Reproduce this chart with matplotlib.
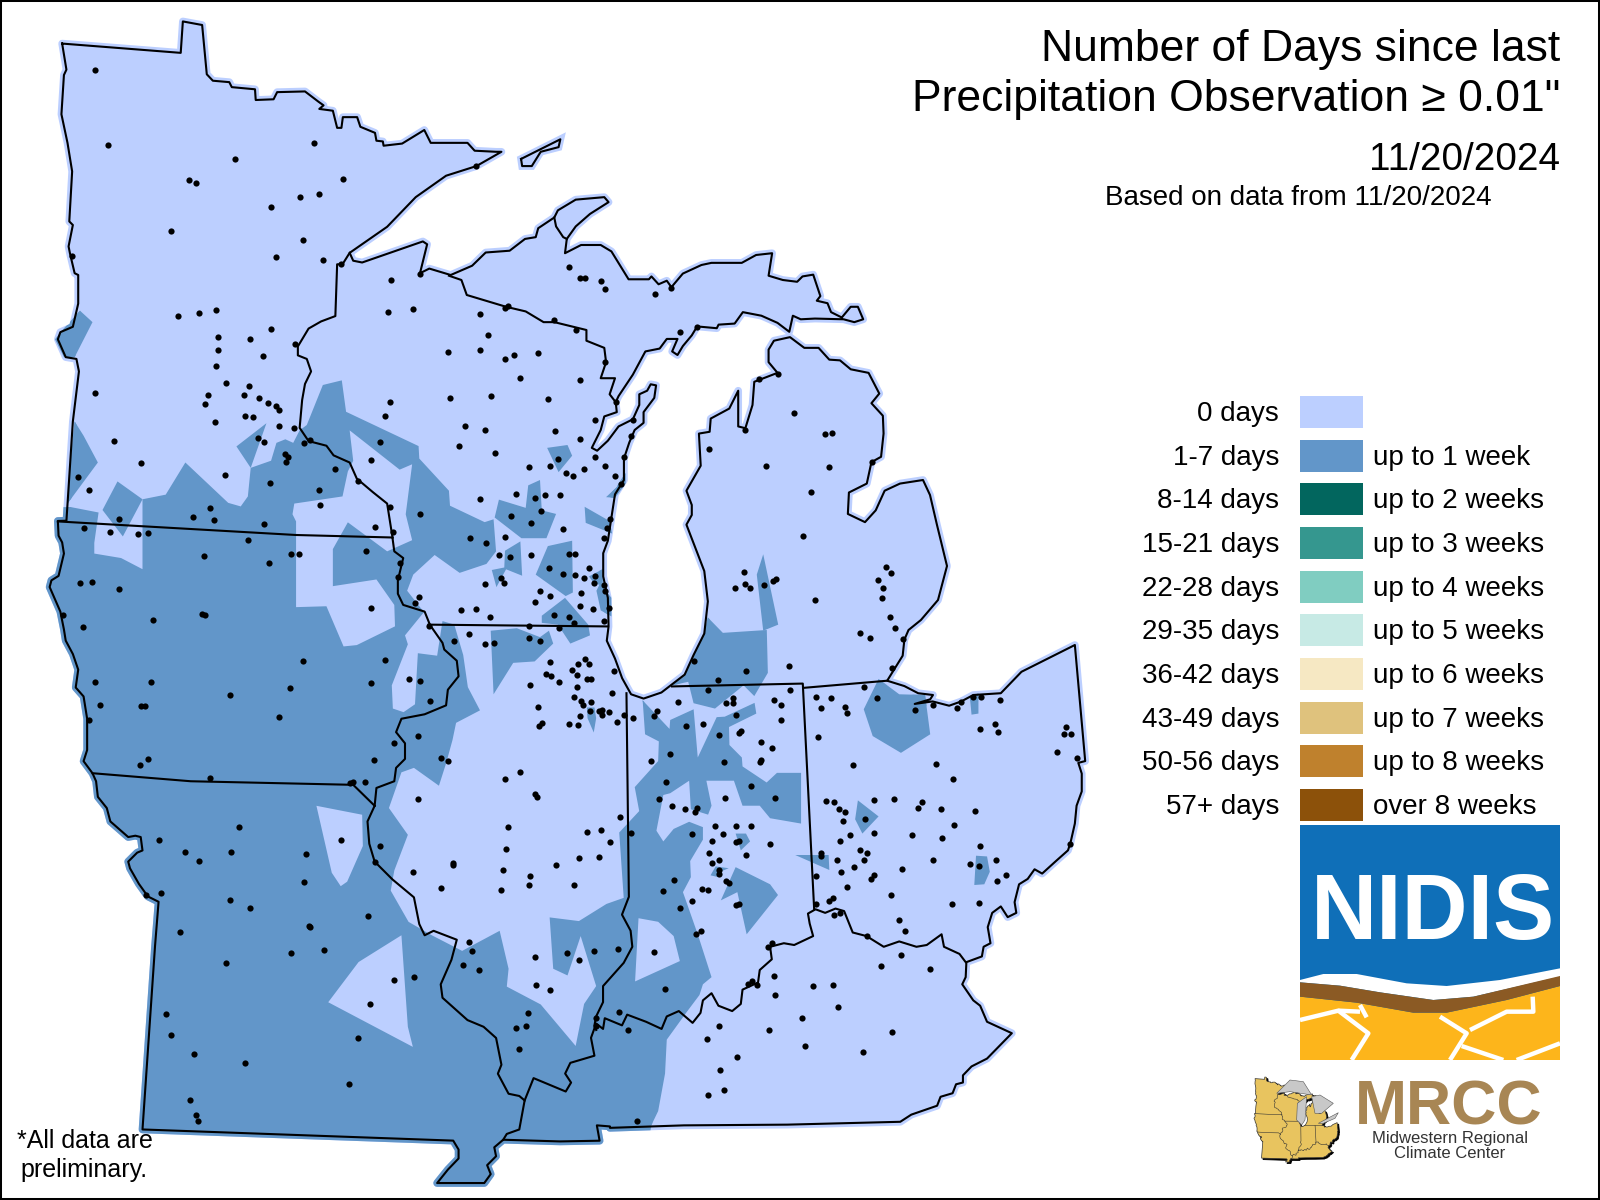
import matplotlib
matplotlib.use("Agg")
import matplotlib.pyplot as plt
from matplotlib.patches import Polygon, Rectangle

plt.rcParams["font.family"] = ["Liberation Sans", "DejaVu Sans"]

LIGHT = "#BCCFFF"
BLUE = "#6296C9"

day_labels = ["0 days", "1-7 days", "8-14 days", "15-21 days", "22-28 days",
              "29-35 days", "36-42 days", "43-49 days", "50-56 days", "57+ days"]
week_labels = ["", "up to 1 week", "up to 2 weeks", "up to 3 weeks", "up to 4 weeks",
               "up to 5 weeks", "up to 6 weeks", "up to 7 weeks", "up to 8 weeks", "over 8 weeks"]
bin_colors = [LIGHT, BLUE, "#02665E", "#35978F", "#80CDC1",
              "#C7EAE5", "#F6E8C3", "#DFC27D", "#BF812D", "#8C510A"]


def nw(pts):
    return [(30 + a / 2.8, b / 2.8) for a, b in pts]

def sw(pts):
    return [(30 + a / 2.8, 500 + b / 2.24) for a, b in pts]

def mid(pts):
    return [(340 + a / 2.8, 180 + b / 2.8) for a, b in pts]

def se(pts):
    return [(560 + a / 2.9037, 620 + b / 2.8) for a, b in pts]


outline = (
    nw([(90, 122), (422, 148), (428, 60), (482, 70), (495, 208), (512, 226), (558, 230), (565, 244),
        (630, 250), (632, 280), (682, 278), (692, 258), (770, 256), (808, 285), (822, 295), (810, 305),
        (848, 310), (860, 358), (872, 358), (876, 328), (916, 328), (925, 355), (966, 372), (970, 394),
        (988, 396), (990, 408), (1042, 402), (1104, 364), (1122, 400), (1225, 400), (1245, 422),
        (1305, 425), (1320, 425), (1250, 465), (1165, 492), (1080, 552), (1000, 635), (895, 708),
        (905, 730), (930, 735), (1100, 676), (1112, 684), (1092, 765), (1118, 752), (1178, 770)])
    + mid([(370, 240), (408, 203), (475, 198), (518, 165), (548, 160), (555, 135), (600, 105), (610, 85),
           (660, 55), (740, 48), (752, 62), (700, 95), (660, 130), (635, 165), (630, 205), (675, 182),
           (730, 182), (760, 200), (808, 278), (865, 278), (872, 270), (892, 292), (915, 282), (928, 300),
           (960, 262), (1012, 238), (1040, 232), (1125, 232), (1165, 210), (1210, 205), (1200, 268),
           (1240, 280), (1280, 285), (1295, 270), (1325, 265), (1345, 325), (1335, 338), (1365, 345),
           (1375, 370), (1405, 385), (1430, 355), (1450, 355), (1465, 390), (1440, 398), (1410, 390),
           (1330, 388), (1290, 390), (1268, 380), (1258, 425), (1225, 400), (1180, 380), (1128, 370),
           (1105, 402), (1060, 405), (1055, 415), (1000, 410), (985, 435), (960, 465), (945, 490),
           (930, 480), (945, 445), (915, 445), (895, 472), (855, 480), (820, 545), (780, 605), (772, 622),
           (775, 650), (740, 662), (730, 700), (705, 750), (720, 758), (750, 730), (780, 690), (820, 670),
           (838, 630), (838, 600), (860, 590), (870, 572), (885, 575), (880, 610), (850, 650), (850, 680),
           (825, 700), (810, 735), (795, 780), (795, 840), (770, 880), (760, 945), (750, 1010), (737, 1045),
           (737, 1110), (750, 1170), (752, 1250), (747, 1290), (770, 1340), (790, 1395), (815, 1440),
           (850, 1452), (900, 1435), (965, 1385), (990, 1330), (1020, 1270), (1030, 1180), (1020, 1095),
           (970, 965), (985, 938), (985, 910), (970, 870), (1010, 800), (1005, 710), (1035, 705),
           (1038, 668), (1090, 640), (1115, 590), (1115, 690), (1135, 695), (1155, 630), (1160, 565),
           (1225, 540), (1200, 510), (1200, 475), (1215, 450), (1260, 440), (1300, 470), (1340, 470),
           (1370, 503), (1400, 505), (1430, 530), (1480, 540), (1510, 598), (1488, 625), (1520, 660),
           (1522, 710), (1515, 775), (1488, 790), (1475, 850), (1425, 875), (1422, 935), (1470, 958),
           (1500, 925), (1525, 870), (1568, 850)])
    + [(923, 480), (930, 495), (937, 525), (947, 566), (938, 600)]
    + se([(1048, 0), (1012, 28), (1000, 55), (995, 100), (950, 170), (1000, 185), (1040, 205), (1083, 210),
          (1075, 222), (1030, 235), (1082, 228), (1130, 240), (1165, 228), (1200, 210), (1280, 205),
          (1340, 145), (1495, 70), (1525, 395), (1505, 400), (1515, 430), (1515, 480), (1500, 520),
          (1495, 570), (1482, 625), (1475, 645), (1440, 675), (1400, 710), (1378, 698), (1358, 725),
          (1333, 740), (1320, 790), (1325, 820), (1300, 832), (1280, 802), (1255, 820), (1242, 860),
          (1250, 905), (1230, 915), (1225, 942), (1180, 958), (1178, 1000), (1168, 1020), (1200, 1065),
          (1220, 1080), (1240, 1125), (1312, 1157), (1240, 1228), (1195, 1250), (1170, 1275), (1170, 1295),
          (1150, 1300), (1140, 1325), (1105, 1335), (1095, 1360), (1020, 1385), (988, 1405), (660, 1413),
          (360, 1415), (145, 1422), (145, 1418), (107, 1415), (115, 1458), (0, 1460)])
    + sw([(1325, 1433), (1300, 1450), (1305, 1470), (1280, 1490), (1290, 1510), (1272, 1530), (1140, 1530),
          (1170, 1500), (1200, 1475), (1200, 1455), (1185, 1435), (315, 1410), (350, 1000), (360, 900),
          (330, 888), (305, 860), (280, 825), (275, 810), (300, 790), (315, 785), (310, 755), (295, 752),
          (275, 755), (225, 720), (215, 690), (190, 665), (185, 630), (175, 612), (150, 585), (160, 560),
          (160, 490), (150, 440), (128, 420), (135, 380), (120, 345), (100, 315), (95, 290), (85, 250),
          (55, 195), (60, 180), (80, 170), (95, 120), (90, 95), (80, 80), (78, 47)])
    + nw([(102, 1458), (120, 1180), (137, 1040), (130, 1005), (100, 1000), (78, 950), (85, 930), (120, 915),
          (135, 850), (135, 770), (125, 765), (112, 710), (108, 690), (120, 630), (110, 620), (118, 480),
          (105, 400), (88, 320), (95, 210), (102, 195)])
)
isle_royale = nw([(1375, 445), (1485, 390), (1480, 412), (1430, 425), (1405, 465), (1378, 465)])

state_lines = [
    nw([(78, 1460), (745, 1498), (1015, 1505)]),  # MN-IA
    nw([(895, 708), (875, 740), (860, 740), (855, 885), (815, 900), (780, 920), (750, 970), (750, 995),
        (775, 1005), (787, 1040), (770, 1075), (762, 1120), (755, 1198), (780, 1235), (830, 1248), (850, 1275),
        (895, 1295), (915, 1340), (960, 1378), (1000, 1410), (1015, 1505)]),  # MN-WI
    sw([(1015, 85), (1020, 115), (1045, 130), (1030, 180), (1030, 210), (1045, 235), (1105, 250), (1120, 280),
        (1155, 320), (1160, 335), (1195, 360), (1200, 395), (1170, 425), (1165, 460), (1105, 480), (1040, 490),
        (1025, 520), (1050, 545), (1050, 580), (1025, 600), (1020, 630), (970, 645), (965, 685)]),  # Mississippi
    sw([(175, 612), (450, 630), (905, 638), (965, 685)]),  # IA-MO
    sw([(965, 685), (945, 720), (950, 770), (965, 810), (1015, 850), (1075, 890), (1090, 950), (1105, 975),
        (1130, 965), (1195, 985), (1180, 1030), (1150, 1085), (1155, 1115), (1225, 1165), (1270, 1180),
        (1305, 1205), (1320, 1265), (1310, 1285), (1340, 1330), (1370, 1335), (1385, 1345), (1370, 1410),
        (1335, 1420), (1325, 1433)]),  # MO-IL-KY
    sw([(1385, 1345), (1410, 1295), (1500, 1325), (1515, 1305)])
    + se([(15, 1270), (30, 1240), (100, 1220), (90, 1170), (105, 1130), (125, 1145), (130, 1115), (180, 1135),
          (195, 1105), (250, 1125), (295, 1145), (310, 1110), (345, 1095), (385, 1128), (408, 1100), (415, 1065),
          (440, 1045), (460, 1080), (500, 1095), (525, 1075), (530, 1035), (575, 1015), (580, 980), (615, 950),
          (610, 915), (650, 905), (680, 910), (735, 885), (725, 850), (720, 822), (742, 810), (770, 820),
          (800, 808), (825, 815), (850, 875), (890, 885), (940, 915), (985, 900), (1035, 915), (1065, 910),
          (1108, 880), (1115, 915), (1160, 935), (1178, 958)]),  # Ohio river
    se([(193, 205), (200, 775), (180, 825), (205, 870), (210, 915), (185, 960), (125, 1025), (125, 1070),
        (105, 1110), (100, 1135), (105, 1148)]),  # IL-IN
    mid([(248, 1245), (750, 1250)]),  # WI-IL
    mid([(305, 268), (340, 280), (355, 322), (465, 355), (520, 368), (570, 398), (600, 398), (690, 420),
         (690, 450), (740, 470), (745, 510), (730, 555), (770, 555), (755, 600), (772, 622)]),  # WI-MI
    mid([(600, 105), (605, 130), (625, 160), (635, 165)]),  # Keweenaw
    se([(325, 186), (705, 178), (738, 810)]),  # MI-IN, IN-OH
    se([(707, 190), (950, 170)]),  # MI-OH
]

# the 1-7 day area, with the zero day holes and the smaller islands painted on top in turn
big_blue = (
    [(20, 507)]
    + nw([(115, 1420), (192, 1435), (180, 1520)])
    + sw([(180, 120), (255, 130), (315, 155)])
    + nw([(315, 1398), (380, 1385), (435, 1295), (555, 1408), (590, 1418), (610, 1390), (618, 1310), (675, 1290),
          (690, 1240), (715, 1230), (737, 1240), (755, 1205), (775, 1190), (820, 1078), (873, 1065), (885, 1153)])
    + mid([(220, 745), (222, 780), (305, 870), (308, 912), (405, 958), (430, 950), (437, 1040), (410, 1075),
           (335, 1100), (265, 1050), (205, 1105), (188, 1150), (235, 1210), (182, 1275), (190, 1300), (145, 1415),
           (148, 1480), (178, 1490), (210, 1468), (218, 1325), (272, 1332), (287, 1235), (320, 1245), (345, 1330),
           (358, 1420), (392, 1485), (325, 1520), (315, 1568)])
    + sw([(1165, 590), (1145, 640), (1075, 600), (1040, 610), (1005, 690), (1058, 750), (1020, 830), (1010, 875),
          (1060, 945), (1125, 975), (1210, 1010), (1315, 965), (1340, 1050), (1335, 1090), (1430, 1130), (1530, 1225)])
    + se([(45, 1195), (70, 1075), (105, 1025), (60, 885)])
    + sw([(1505, 1065), (1465, 1050), (1455, 935)])
    + se([(55, 843), (135, 795), (185, 778), (172, 595), (230, 535), (217, 468), (285, 395), (287, 340), (247, 320),
          (240, 225), (318, 305), (320, 280), (388, 250), (400, 385), (455, 272), (490, 270), (492, 350), (528, 385),
          (530, 410), (600, 455), (630, 428), (700, 428), (700, 570), (610, 555), (580, 520), (530, 520), (505, 450),
          (425, 450), (440, 520), (430, 545), (380, 530), (375, 450), (320, 485), (300, 490), (280, 590), (300, 620),
          (330, 585), (375, 565), (415, 580), (415, 615), (378, 675), (380, 720), (357, 762), (400, 880), (440, 1000),
          (415, 1020), (405, 1050), (370, 1095), (310, 1175), (305, 1270), (285, 1375), (265, 1415), (255, 1480)])
    + [(500, 1195), (30, 1195)]
)
zero_holes = [
    sw([(745, 240), (830, 238), (878, 328), (915, 325), (1022, 283), (1020, 235), (970, 178), (848, 193), (848, 110),
        (890, 50), (1000, 115), (1070, 90)])
    + nw([(1052, 1440), (1070, 1300), (1035, 1315), (895, 1205), (905, 1290), (890, 1320), (875, 1390), (740, 1410),
          (735, 1440), (745, 1460)]),
    sw([(802, 685), (930, 705), (932, 775), (888, 855), (870, 865), (845, 835)]),
    sw([(835, 1125), (920, 1035), (1040, 975), (1058, 1180), (1072, 1225)]),
    se([(228, 835), (285, 845), (330, 885), (348, 955), (218, 1012)]),
]
blue_islands = [
    nw([(140, 870), (175, 902), (125, 1000), (95, 1000), (70, 950), (90, 925)]),
    nw([(125, 1180), (150, 1220), (190, 1295), (105, 1410), (110, 1330)]),
    nw([(245, 1348), (315, 1398), (260, 1502), (203, 1428)]),
    nw([(662, 1185), (618, 1310), (578, 1250)]),
    mid([(580, 750), (637, 742), (650, 772), (612, 818)]),
    mid([(527, 855), (560, 840), (565, 925), (605, 935), (578, 1003), (508, 1003), (433, 945), (445, 895), (520, 918)]),
    mid([(685, 915), (755, 955), (762, 990), (688, 960)]),
    mid([(745, 888), (775, 860), (780, 850), (800, 820), (800, 850), (770, 890)]),
    mid([(650, 1010), (652, 1155), (632, 1165), (548, 1105), (582, 1025)]),
    mid([(505, 1012), (510, 1108), (465, 1090), (438, 1140), (425, 1092), (460, 1085), (462, 1038)]),
    mid([(718, 1150), (728, 1130), (760, 1170), (760, 1222), (730, 1205)]),
    mid([(697, 1110), (735, 1090), (735, 1135), (712, 1130)]),
    mid([(565, 1220), (630, 1170), (695, 1245), (700, 1275), (645, 1298), (610, 1245), (565, 1240)]),
    mid([(422, 1262), (495, 1255), (560, 1280), (585, 1262), (597, 1298), (545, 1348), (485, 1352), (430, 1440)]),
    mid([(1030, 1225), (1072, 1268), (1195, 1260), (1198, 1380), (1160, 1445), (1130, 1415), (1050, 1480), (990, 1465),
         (975, 1405), (930, 1415), (965, 1385), (1020, 1270)]),
    mid([(1185, 1048), (1227, 1245), (1185, 1262), (1167, 1105)]),
    se([(882, 250), (925, 165), (985, 208), (1060, 210), (1075, 320), (990, 372), (908, 325)]),
    se([(1190, 215), (1215, 205), (1215, 262), (1195, 265)]),
    se([(865, 505), (925, 550), (878, 598), (857, 558)]),
    se([(1208, 660), (1240, 662), (1248, 705), (1232, 740), (1203, 742)]),
    se([(683, 658), (780, 658), (782, 700)]),
    se([(510, 598), (540, 598), (552, 620), (525, 645)]),
    se([(437, 715), (452, 690), (490, 695), (465, 705), (460, 720)]),
    se([(510, 692), (610, 740), (633, 770), (542, 880), (515, 762), (467, 785)]),
    se([(480, 270), (565, 232), (570, 262), (490, 300)]),
    se([(78, 245), (100, 245), (105, 275), (98, 315), (80, 275)]),
]

stations = (
    nw([(181, 196), (218, 406), (573, 446), (794, 401), (445, 504), (466, 513), (757, 552), (808, 544), (676, 580),
        (396, 647), (763, 672), (690, 720), (819, 728), (118, 716), (414, 885), (472, 877), (522, 868), (676, 922),
        (525, 944), (617, 950), (741, 964), (525, 980), (651, 997), (522, 1025), (181, 1101), (550, 1073), (612, 1081),
        (497, 1106), (598, 1106), (640, 1115), (665, 1129), (489, 1132), (690, 1137), (697, 1148), (601, 1165),
        (623, 1168), (519, 1182), (696, 1193), (739, 1199), (234, 1235), (638, 1227), (654, 1238), (766, 1241),
        (783, 1232), (312, 1297), (713, 1272), (722, 1280), (718, 1293), (853, 1314), (133, 1336), (547, 1330),
        (164, 1372), (673, 1353), (808, 1372), (875, 502), (1248, 465), (870, 740)])
    + sw([(813, 12), (505, 18), (455, 38), (250, 42), (514, 45), (654, 54), (150, 62), (223, 72), (301, 76), (329, 73),
          (609, 89), (486, 126), (732, 121), (752, 121), (668, 142), (141, 186), (173, 184), (248, 200), (92, 258),
          (343, 269), (147, 285), (482, 256), (490, 258), (763, 360), (181, 408), (340, 407), (559, 437), (729, 422),
          (197, 460), (312, 462), (322, 462), (164, 492), (696, 487), (307, 594), (329, 581), (503, 623), (584, 733),
          (360, 762), (433, 789), (472, 809), (564, 789), (774, 793), (326, 885), (368, 881), (766, 856), (559, 897),
          (617, 914), (419, 968), (780, 954), (784, 957), (822, 1009), (732, 1015), (550, 1038), (382, 1152), (396, 1199),
          (458, 1242), (601, 1262), (447, 1345), (465, 1378), (470, 1392), (962, 583), (1018, 545), (895, 633), (904, 632),
          (937, 632), (1152, 578), (1170, 585), (1329, 625), (1371, 610), (1415, 658), (1419, 665), (1085, 670), (1338, 733),
          (872, 762), (979, 776), (965, 811), (1334, 782), (1184, 812), (1184, 818), (1474, 818), (1072, 833), (1324, 829),
          (1150, 868), (1320, 873), (1401, 843), (1396, 863), (945, 932), (1228, 991), (1237, 1011), (1415, 1024),
          (1212, 1042), (1257, 1053), (1018, 1076), (1074, 1069), (1418, 1087), (1455, 1098), (951, 1130), (917, 1206),
          (892, 1309), (1394, 1150), (1362, 1183), (1388, 1179), (1368, 1230)])
    + mid([(223, 262), (144, 280), (640, 244), (673, 275), (685, 275), (730, 283), (743, 306), (883, 320), (928, 302),
           (133, 370), (203, 362), (391, 376), (461, 358), (470, 354), (600, 393), (662, 420), (951, 426), (1000, 412),
           (413, 434), (301, 482), (393, 476), (461, 502), (486, 490), (553, 485), (742, 510), (503, 554), (673, 561),
           (1226, 543), (1172, 558), (309, 611), (424, 605), (581, 614), (139, 622), (772, 621), (1270, 653), (127, 661),
           (349, 689), (405, 700), (603, 703), (715, 672), (820, 672), (1135, 701), (1357, 712), (1377, 709), (814, 717),
           (671, 726), (111, 734), (332, 745), (435, 765), (1032, 754), (713, 776), (795, 776), (88, 784), (609, 782),
           (528, 804), (587, 801), (743, 801), (682, 810), (1194, 801), (1368, 804), (1490, 790), (634, 821), (651, 829),
           (771, 829), (49, 843), (786, 852), (1320, 874), (494, 880), (547, 891), (575, 882), (615, 882), (393, 894),
           (141, 915), (480, 941), (564, 927), (223, 936), (757, 950), (536, 961), (99, 972), (747, 975), (623, 978),
           (147, 986), (461, 999), (1295, 997), (363, 1003), (410, 1017), (738, 1003), (74, 1039), (444, 1050), (477, 1056),
           (536, 1050), (640, 1048), (659, 1048), (167, 1073), (584, 1087), (697, 1087), (1530, 1084), (1130, 1098),
           (1542, 1101), (161, 1111), (657, 1106), (623, 1104), (713, 1109), (682, 1115), (452, 1114), (1505, 1121),
           (1222, 1118), (1211, 1123), (711, 1129), (458, 1129), (405, 1132), (1135, 1132), (1147, 1143), (1186, 1134),
           (1105, 1143), (738, 1135), (1520, 1143), (561, 1151), (741, 1151), (676, 1157), (587, 1165), (221, 1168),
           (1517, 1171), (1329, 1176), (211, 1185), (547, 1182), (673, 1193), (752, 1199), (707, 1202), (88, 1199),
           (340, 1204), (382, 1202), (598, 1217), (419, 1224), (640, 1224), (1539, 1224), (530, 1249), (250, 1250),
           (612, 1255), (529, 1283), (559, 1291), (318, 1291), (407, 1300), (430, 1297), (360, 1272), (125, 1344), (192, 1398),
           (225, 1403), (88, 1409), (253, 1459), (533, 1414), (589, 1350), (578, 1384), (592, 1389), (612, 1406),
           (219, 1557), (553, 1476), (558, 1528), (565, 1521), (1553, 1255)])
    + se([(42, 8), (128, 3), (870, 37), (899, 51), (997, 53), (74, 110), (52, 122), (83, 124), (34, 141),
          (48, 154), (158, 143), (78, 166), (90, 166), (48, 188), (150, 205), (40, 216), (62, 226), (68, 237), (89, 230),
          (57, 269), (25, 290), (52, 295), (86, 255), (112, 255), (122, 253), (123, 266), (141, 258), (165, 286), (187, 266),
          (211, 275), (388, 115), (458, 168), (541, 143), (664, 129), (963, 135), (429, 197), (667, 195), (882, 187),
          (343, 230), (281, 255), (272, 269), (365, 297), (415, 292), (461, 322), (481, 233), (502, 218), (502, 233),
          (510, 267), (621, 223), (641, 239), (643, 281), (520, 317), (525, 312), (743, 216), (786, 219), (758, 247),
          (827, 244), (833, 261), (920, 219), (1031, 253), (1082, 237), (1152, 247), (1164, 230), (1200, 216), (1222, 216),
          (1277, 225), (1262, 292), (1219, 306), (1271, 314), (1468, 300), (1463, 320), (1483, 320), (748, 328), (583, 342),
          (617, 359), (580, 398), (584, 393), (265, 394), (318, 376), (475, 398), (1442, 370), (1500, 387), (850, 406),
          (1091, 404), (1140, 446), (307, 454), (554, 465), (287, 502), (478, 499), (623, 499), (324, 521), (362, 530),
          (397, 525), (393, 538), (772, 507), (797, 510), (913, 505), (969, 502), (1050, 510), (1039, 527), (1105, 530),
          (809, 530), (827, 538), (1204, 535), (174, 552), (823, 563), (887, 558), (449, 577), (510, 577), (554, 577),
          (1143, 575), (78, 594), (118, 588), (205, 597), (382, 600), (472, 600), (841, 602), (911, 597), (1021, 603),
          (1108, 611), (144, 622), (440, 619), (511, 622), (519, 619), (609, 628), (812, 619), (1221, 633), (1480, 628),
          (432, 653), (540, 658), (757, 653), (757, 662), (870, 645), (891, 653), (54, 667), (112, 664), (463, 673), (803, 673),
          (882, 673), (1082, 673), (1265, 673), (441, 681), (1190, 684), (1218, 689), (461, 700), (463, 712), (815, 706),
          (853, 692), (992, 698), (913, 714), (902, 726), (743, 717), (330, 729), (483, 731), (490, 737), (1268, 731),
          (1295, 714), (42, 742), (833, 748), (298, 760), (412, 754), (429, 757), (960, 770), (382, 787), (793, 779), (780, 787),
          (511, 798), (521, 796), (743, 796), (347, 807), (1137, 796), (1218, 793), (795, 827), (813, 819), (984, 841),
          (394, 878), (408, 871), (1001, 871), (891, 885), (605, 915), (615, 905), (272, 930), (19, 933), (54, 953), (98, 927),
          (167, 922), (989, 938), (931, 969), (1073, 978), (621, 997), (558, 1012), (545, 1020), (573, 1022), (736, 1025),
          (792, 1022), (304, 1034), (623, 1050), (806, 1084), (170, 1098), (704, 1115), (105, 1115), (463, 1137), (105, 1138),
          (196, 1148), (606, 1148), (963, 1154), (426, 1174), (710, 1193), (881, 1210), (513, 1224), (466, 1261), (475, 1317),
          (431, 1331), (223, 1403)])
)


def logo(pts):
    return [(1240 + a / 3, 820 + b / 3) for a, b in pts]


white_wave = logo([(180, 480), (250, 462), (350, 462), (500, 490), (620, 498), (780, 480), (960, 445),
                   (960, 470), (700, 530), (580, 540), (420, 517), (300, 497), (180, 487)])
brown_band = logo([(180, 487), (300, 497), (420, 517), (580, 540), (700, 530), (960, 468),
                   (960, 498), (800, 540), (620, 578), (520, 578), (350, 548), (180, 530)])
orange_ground = logo([(180, 530), (350, 548), (520, 578), (620, 578), (800, 540), (960, 498), (960, 720), (180, 720)])
cracks = [
    logo([(180, 600), (295, 572), (385, 640), (335, 720)]),
    logo([(295, 572), (360, 575)]),
    logo([(360, 555), (380, 592)]),
    logo([(600, 590), (680, 640), (630, 720)]),
    logo([(690, 630), (800, 575), (880, 575), (878, 530)]),
    logo([(665, 678), (790, 720)]),
    logo([(830, 720), (960, 670)]),
]
mini_lakes = [
    logo([(110, 820), (150, 780), (190, 785), (215, 825), (150, 815)]),
    logo([(170, 900), (172, 850), (200, 830), (195, 900), (185, 915)]),
    logo([(215, 830), (240, 825), (280, 850), (245, 880), (225, 880)]),
    logo([(235, 910), (295, 878), (285, 895), (250, 910)]),
]

fig = plt.figure(figsize=(16, 12), dpi=100)
ax = fig.add_axes([0, 0, 1, 1])
ax.set_xlim(0, 1600)
ax.set_ylim(1200, 0)
ax.set_xticks([])
ax.set_yticks([])
for s in ax.spines.values():
    s.set_linewidth(2.9)
    s.set_color("k")

rx, ry = zip(*(outline + outline[:1]))

region = Polygon(outline, closed=True, fc=LIGHT, ec=LIGHT, lw=5.5, joinstyle="round", zorder=1)
ax.add_patch(region)
ax.add_patch(Polygon(isle_royale, closed=True, fc=LIGHT, ec=LIGHT, lw=5.5, zorder=1))


def paint(pts, color, z):
    # fill only inside the states, and tint the halo round the coast to match
    clip = Polygon(outline, closed=True, transform=ax.transData)
    poly = Polygon(pts, closed=True, fc=color, ec="none", zorder=z)
    ax.add_patch(poly)
    poly.set_clip_path(clip)
    halo, = ax.plot(rx, ry, color=color, lw=5.5, zorder=z)
    halo.set_clip_path(Polygon(pts, closed=True, transform=ax.transData))


paint(big_blue, BLUE, 2)
for hole in zero_holes:
    paint(hole, LIGHT, 3)
for isl in blue_islands:
    paint(isl, BLUE, 4)

ax.plot(rx, ry, color="k", lw=1.5, zorder=5)
ix, iy = zip(*(isle_royale + isle_royale[:1]))
ax.plot(ix, iy, color="k", lw=1.5, zorder=5)
for line in state_lines:
    lx, ly = zip(*line)
    ax.plot(lx, ly, color="k", lw=1.5, zorder=5)

sx, sy = zip(*stations)
ax.scatter(sx, sy, s=20, c="k", linewidths=0, zorder=6)

# titles
ax.text(1560, 49, "Number of Days since last", ha="right", va="center", fontsize=32, zorder=8)
ax.text(1560, 100, "Precipitation Observation \u2265 0.01\"", ha="right", va="center", fontsize=32, zorder=8)
ax.text(1560, 160, "11/20/2024", ha="right", va="center", fontsize=27.8, zorder=8)
ax.text(1492, 198, "Based on data from 11/20/2024", ha="right", va="center", fontsize=20, zorder=8)
ax.text(17, 1141, "*All data are", ha="left", va="center", fontsize=18, zorder=8)
ax.text(20, 1170, "preliminary.", ha="left", va="center", fontsize=18, zorder=8)

# legend
for i in range(len(day_labels)):
    top = 396 + i * 43.65
    ax.add_patch(Rectangle((1300, top), 63, 32, fc=bin_colors[i], ec="none", zorder=8))
    ax.text(1279, top + 18, day_labels[i], ha="right", va="center", fontsize=20, zorder=8)
    ax.text(1373, top + 18, week_labels[i], ha="left", va="center", fontsize=20, zorder=8)

# NIDIS logo
ax.add_patch(Rectangle((1300, 825), 260, 235, fc="#0F6FB8", ec="none", zorder=8))
ax.add_patch(Polygon(orange_ground, closed=True, fc="#FDB51B", ec="none", zorder=9))
ax.add_patch(Polygon(white_wave, closed=True, fc="white", ec="none", zorder=9))
ax.add_patch(Polygon(brown_band, closed=True, fc="#8B5A24", ec="none", zorder=10))
for c in cracks:
    cx, cy = zip(*c)
    ax.plot(cx, cy, color="white", lw=3.2, zorder=10, solid_capstyle="butt")
ax.text(1433, 915, "NIDIS", ha="center", va="center", fontsize=66,
        fontweight="bold", color="white", zorder=10)

# MRCC logo, the little map is the big outline again at small scale
x_lo, x_hi = min(rx), max(rx)
y_lo, y_hi = min(ry), max(ry)


def small(pts, dx=0, dy=0):
    return [(1254 + (a - x_lo) / (x_hi - x_lo) * 84 + dx, 1077 + (b - y_lo) / (y_hi - y_lo) * 85 + dy) for a, b in pts]


ax.add_patch(Polygon(small(outline, 1.5, 1.5), closed=True, fc="k", ec="k", lw=0.6, zorder=9))
ax.add_patch(Polygon(small(outline), closed=True, fc="#E8C45F", ec="#333333", lw=0.5, zorder=10))
for line in state_lines:
    mx, my = zip(*small(line))
    ax.plot(mx, my, color="#333333", lw=0.4, zorder=11)
for lake in mini_lakes:
    ax.add_patch(Polygon(lake, closed=True, fc="#C8C8C8", ec="#555555", lw=0.4, zorder=12))
ax.text(1449, 1108, "MRCC", ha="center", va="center", fontsize=45, fontweight="bold", color="#A88654", zorder=8)
ax.text(1450, 1139, "Midwestern Regional", ha="center", va="center", fontsize=12, color="#333333", zorder=8)
ax.text(1450, 1154, "Climate Center", ha="center", va="center", fontsize=12, color="#333333", zorder=8)

fig.savefig("out.png", dpi=100)
